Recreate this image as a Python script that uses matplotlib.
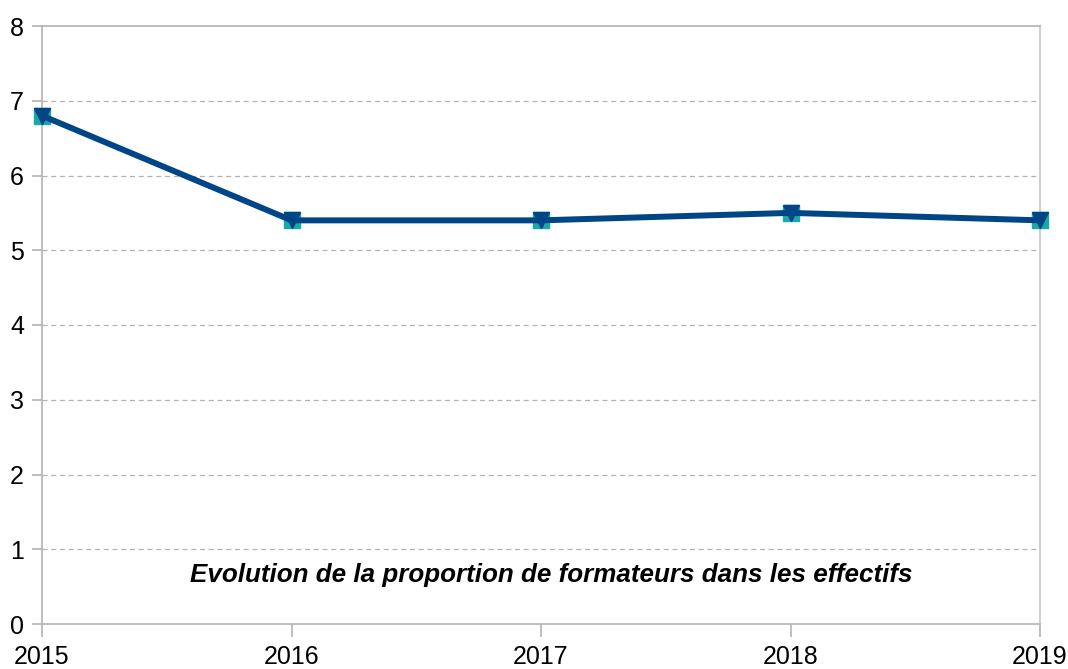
import matplotlib
matplotlib.use("Agg")
import matplotlib.pyplot as plt

years = [2015, 2016, 2017, 2018, 2019]
proportion = [6.8, 5.4, 5.4, 5.5, 5.4]
title = "Evolution de la proportion de formateurs dans les effectifs"

plt.rcParams['font.family'] = ['Liberation Sans', 'DejaVu Sans']

fig = plt.figure(figsize=(10.68, 6.69), dpi=100)
ax = fig.add_axes([42/1068, 1 - 624/669, (1040 - 42)/1068, (624 - 26)/669])

ax.plot(years, proportion, linestyle='none', marker='s', markersize=12,
        color='#19a9a9', zorder=3, clip_on=False)
ax.plot(years, proportion, color='#004586', linewidth=4.3, marker='v',
        markersize=12, zorder=4, clip_on=False)

ax.set_xlim(2015, 2019)
ax.set_ylim(0, 8)
ax.set_xticks(years)
ax.set_yticks(range(0, 9))
ax.tick_params(axis='both', labelsize=18, colors='#b3b3b3', labelcolor='black')
ax.tick_params(axis='x', length=9, width=1.2, pad=6)
ax.tick_params(axis='y', length=7, width=1.2, pad=6)

for y in range(1, 8):
    ax.axhline(y, color='#b3b3b3', linestyle=(0, (4, 3)), linewidth=0.9, zorder=1)

for s in ['left', 'bottom', 'top']:
    ax.spines[s].set_color('#b3b3b3')
    ax.spines[s].set_linewidth(1.2)
ax.spines['right'].set_color('#d0d0d0')
ax.spines['right'].set_linewidth(1.5)

ax.text(0.51, 0.082, title, transform=ax.transAxes, ha='center', va='center',
        fontsize=18.7, fontweight='bold', fontstyle='italic', color='black')

fig.savefig('out.png', dpi=100)
